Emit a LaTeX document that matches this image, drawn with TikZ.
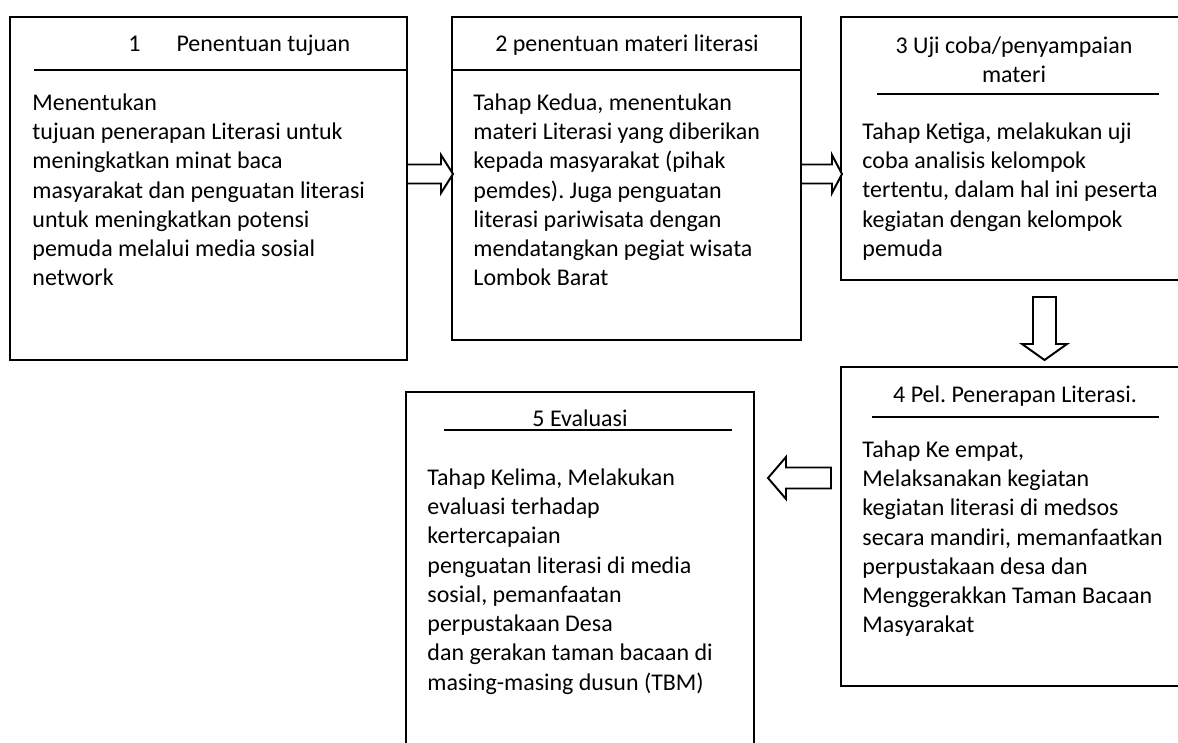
\documentclass[tikz,border=0pt]{standalone}
\usepackage{fontspec}
\setmainfont{Carlito}
\usetikzlibrary{fit}
\frenchspacing
\begin{document}
\begin{tikzpicture}[x=0.459pt,y=-0.459pt,
  box/.style={draw, line width=1pt, inner sep=0pt},
  rulel/.style={line width=0.9pt},
  blockarrow/.style={draw, line width=0.9pt, fill=white, line join=miter},
  ttl/.style={font=\fontsize{11}{13.43}\selectfont\frenchspacing, inner sep=0pt, anchor=base},
  body/.style={font=\fontsize{11}{13.43}\selectfont\frenchspacing, inner sep=0pt, anchor=north west, align=left}]
\useasboundingbox (0,0) rectangle (1178,743);
\clip (0,0) rectangle (1178,743);
% corner coordinates
\coordinate (b1nw) at (10,17);   \coordinate (b1se) at (407,360);
\coordinate (b2nw) at (452,17);  \coordinate (b2se) at (801,340);
\coordinate (b3nw) at (841,17);  \coordinate (b3se) at (1195,280);
\coordinate (b4nw) at (841,367); \coordinate (b4se) at (1195,686);
\coordinate (b5nw) at (406,392); \coordinate (b5se) at (754,770);
% boxes
\node[box, fit=(b1nw)(b1se)] (b1) {};
\node[box, fit=(b2nw)(b2se)] (b2) {};
\node[box, fit=(b3nw)(b3se)] (b3) {};
\node[box, fit=(b4nw)(b4se)] (b4) {};
\node[box, fit=(b5nw)(b5se)] (b5) {};
% title rules
\coordinate (r1a) at (34,70);   \coordinate (r1b) at (407,70);
\coordinate (r2a) at (452,70);  \coordinate (r2b) at (801,70);
\coordinate (r3a) at (877,94);  \coordinate (r3b) at (1159,94);
\coordinate (r4a) at (872,417); \coordinate (r4b) at (1159,417);
\coordinate (r5a) at (444,430); \coordinate (r5b) at (732,430);
\draw[rulel] (r1a) -- (r1b);
\draw[rulel] (r2a) -- (r2b);
\draw[rulel] (r3a) -- (r3b);
\draw[rulel] (r4a) -- (r4b);
\draw[rulel] (r5a) -- (r5b);
% titles
\node[ttl, anchor=base west] (t1) at (128,52) {1\hspace*{16.5pt}Penentuan tujuan};
\node[ttl] (t2) at (627,52) {2 penentuan materi literasi};
\node[ttl, anchor=north, align=center] (t3) at (1014,32.5) {\strut 3 Uji coba/penyampaian\\materi};
\node[ttl] (t4) at (1015,402) {4 Pel. Penerapan Literasi.};
\node[ttl] (t5) at (580,426) {5 Evaluasi};
% bodies
\node[body] (x1) at (32,89.5) {\strut Menentukan\\tujuan penerapan Literasi untuk\\meningkatkan minat baca\\masyarakat dan penguatan literasi\\untuk meningkatkan potensi\\pemuda melalui media sosial\\network};
\node[body] (x2) at (473,89.5) {\strut Tahap Kedua, menentukan\\materi Literasi yang diberikan\\kepada masyarakat (pihak\\pemdes). Juga penguatan\\literasi pariwisata dengan\\mendatangkan pegiat wisata\\Lombok Barat};
\node[body] (x3) at (862,118.5) {\strut Tahap Ketiga, melakukan uji\\coba analisis kelompok\\tertentu, dalam hal ini peserta\\kegiatan dengan kelompok\\pemuda};
\node[body] (x4) at (862,436.5) {\strut Tahap Ke empat,\\Melaksanakan kegiatan\\kegiatan literasi di medsos\\secara mandiri, memanfaatkan\\perpustakaan desa dan\\Menggerakkan Taman Bacaan\\Masyarakat};
\node[body] (x5) at (427,464.5) {\strut Tahap Kelima, Melakukan\\evaluasi terhadap\\kertercapaian\\penguatan literasi di media\\sosial, pemanfaatan\\perpustakaan Desa\\dan gerakan taman bacaan di\\masing-masing dusun (TBM)};
% block arrows
\coordinate (a12) at (407,174);
\draw[blockarrow] (a12) ++(0,-9.5) -- ++(34,0) -- ++(0,-9.5) -- ++(12,19) -- ++(-12,19) -- ++(0,-9.5) -- ++(-34,0) -- cycle;
\coordinate (a23) at (801,174);
\draw[blockarrow] (a23) ++(0,-9.5) -- ++(31,0) -- ++(0,-9.5) -- ++(10,19) -- ++(-10,19) -- ++(0,-9.5) -- ++(-31,0) -- cycle;
\coordinate (a34) at (1044.5,297);
\draw[blockarrow] (a34) ++(-11.5,0) -- ++(23,0) -- ++(0,47) -- ++(11,0) -- ++(-22.5,16) -- ++(-22.5,-16) -- ++(11,0) -- cycle;
\coordinate (a45) at (831,478);
\draw[blockarrow] (a45) ++(0,-10.5) -- ++(-45,0) -- ++(0,-10.5) -- ++(-18,21) -- ++(18,21) -- ++(0,-10.5) -- ++(45,0) -- cycle;
\end{tikzpicture}
\end{document}
